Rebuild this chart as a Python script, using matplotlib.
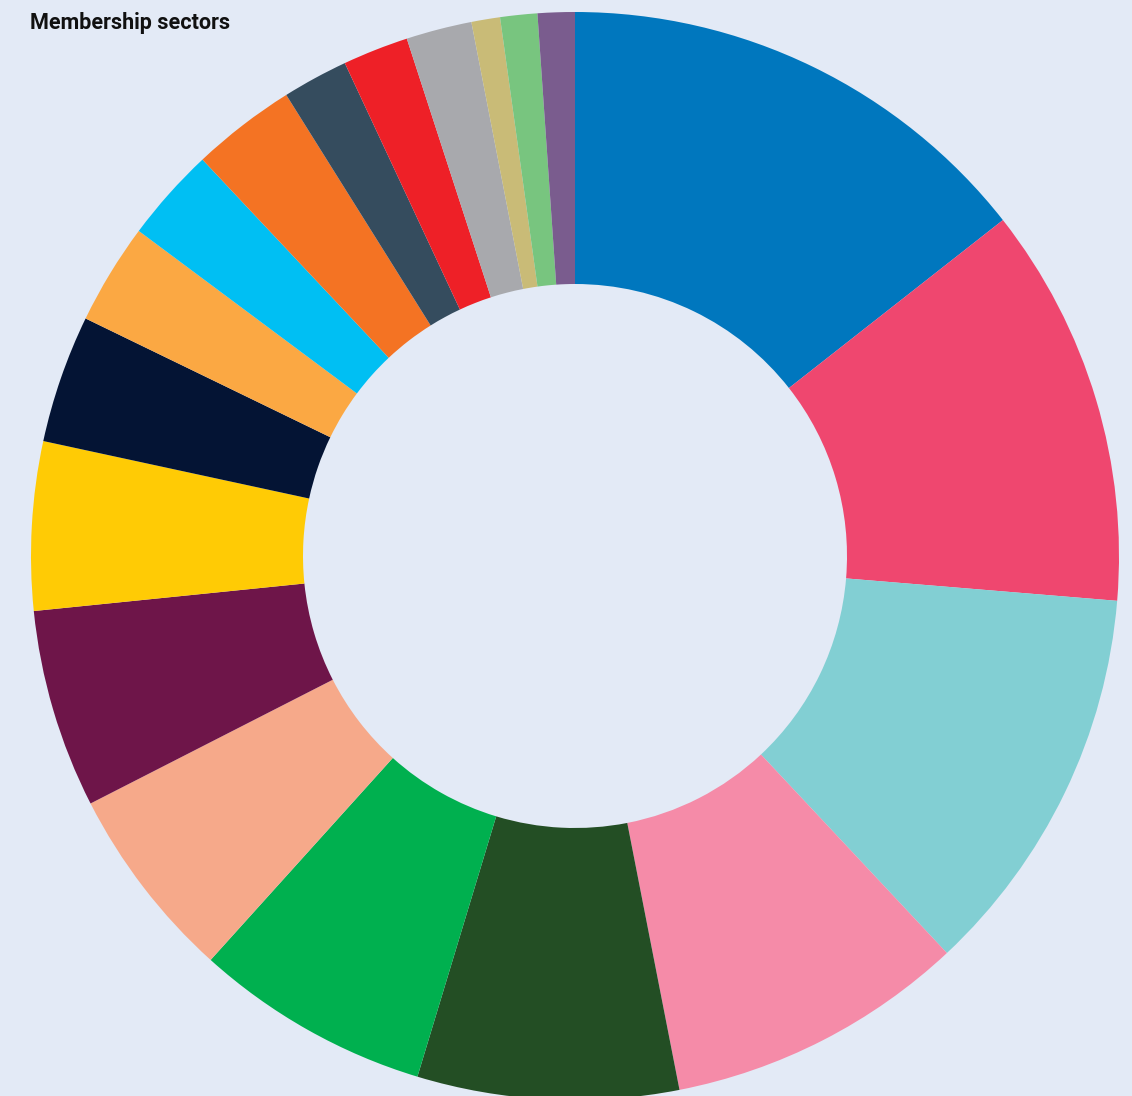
import matplotlib.pyplot as plt

# sector shares (%), clockwise from the top
shares = [14.4, 11.9, 11.7, 8.9, 7.75, 7.0, 5.8, 5.9, 5.0, 3.8,
          3.0, 2.8, 3.1, 1.95, 1.95, 1.95, 0.85, 1.1, 1.1]
colors = ['#0077BE', '#EF476F', '#82CFD3', '#F58BA8', '#234E24', '#00B04F',
          '#F6A98A', '#6E1549', '#FFCB05', '#041434', '#FBA843', '#00BFF3',
          '#F47323', '#354C5E', '#EE2027', '#A8A9AD', '#C9BB77', '#78C57F',
          '#7A5C8E']
title = 'Membership sectors'

bg = '#E3EAF6'
fig = plt.figure(figsize=(11.32, 10.96), dpi=100, facecolor=bg)
ax = fig.add_axes([0, 0, 1, 1])
ax.set_facecolor(bg)

ax.pie(shares, colors=colors, startangle=90, counterclock=False,
       radius=1, wedgeprops=dict(width=0.5, linewidth=0))

# centre at pixel (575, 556), radius 544 px
ax.set_xlim(-575 / 544, (1132 - 575) / 544)
ax.set_ylim(-(1096 - 556) / 544, 556 / 544)
ax.set_aspect('equal')
ax.axis('off')

fig.text(30 / 1132, 1 - 23 / 1096, title, fontsize=15.5, fontweight='bold',
         family='Roboto', color='#111111', va='center', ha='left')

plt.savefig('out.png', facecolor=bg)
